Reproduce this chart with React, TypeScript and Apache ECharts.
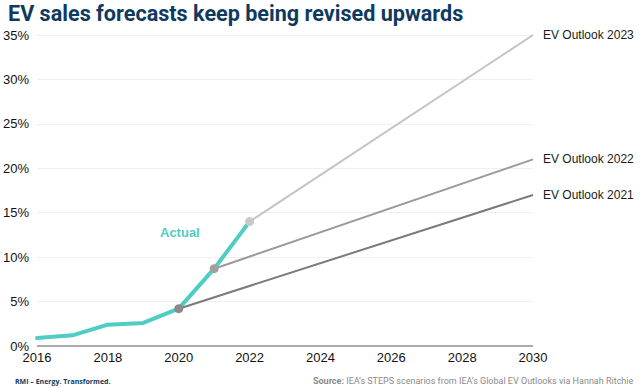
import React, { useEffect, useRef } from "react";
import * as echarts from "echarts";

const actualYears = [2016, 2017, 2018, 2019, 2020, 2021, 2022];
const actualValues = [0.9, 1.2, 2.4, 2.6, 4.2, 8.7, 14.0];

const outlookNames = ["EV Outlook 2021", "EV Outlook 2022", "EV Outlook 2023"];
const outlookStartYears = [2020, 2021, 2022];
const outlookStartValues = [4.2, 8.7, 14.0];
const outlookEndYear = 2030;
const outlookEndValues = [17.0, 21.0, 35.0];
const outlookLineColors = ["#7a7a7a", "#9a9a9a", "#c4c4c4"];
const outlookDotColors = ["#8a8a8a", "#a0a0a0", "#c8c8c8"];

const yTicks = [0, 5, 10, 15, 20, 25, 30, 35];
const xTicks = [2016, 2018, 2020, 2022, 2024, 2026, 2028, 2030];

const titleText = "EV sales forecasts keep being revised upwards";
const footerLeft = "RMI – Energy. Transformed.";
const footerSourceBold = "Source:";
const footerSource = " IEA’s STEPS scenarios from IEA’s Global EV Outlooks via Hannah Ritchie";

export default function App() {
  const ref = useRef<HTMLDivElement>(null);
  useEffect(() => {
    if (!ref.current) return;
    const chart = echarts.init(ref.current, undefined, { renderer: "svg" });
    const outlookSeries = outlookNames.map((name, i) => ({
      name,
      type: "line",
      z: 3,
      data: [
        { value: [outlookStartYears[i], outlookStartValues[i]], symbol: "circle", symbolSize: 9 },
        { value: [outlookEndYear, outlookEndValues[i]], symbol: "none" },
      ],
      lineStyle: { color: outlookLineColors[i], width: 2 },
      itemStyle: { color: outlookDotColors[i] },
      endLabel: {
        show: true,
        formatter: name,
        color: "#1a1a1a",
        fontSize: 12,
        fontFamily: "Liberation Sans, Arial, sans-serif",
        distance: 10,
      },
      silent: true,
    }));
    chart.setOption({
      animation: false,
      grid: { left: 35, right: 107, top: 35, bottom: 42, containLabel: false },
      xAxis: {
        type: "value",
        min: 2016,
        max: 2030,
        interval: 2,
        axisLine: { show: false },
        axisTick: { show: false },
        splitLine: { show: false },
        axisLabel: {
          color: "#111",
          fontSize: 13,
          fontFamily: "Liberation Sans, Arial, sans-serif",
          margin: 5,
          formatter: (v: number) => (xTicks.includes(v) ? String(v) : ""),
        },
      },
      yAxis: {
        type: "value",
        min: 0,
        max: 35,
        interval: 5,
        axisLine: { show: false },
        axisTick: { show: false },
        splitLine: { show: true, lineStyle: { color: "#f0f0f0", width: 1 } },
        axisLabel: {
          color: "#111",
          fontSize: 13,
          fontFamily: "Liberation Sans, Arial, sans-serif",
          margin: 8,
          formatter: (v: number) => (yTicks.includes(v) ? v + "%" : ""),
        },
      },
      series: [
        {
          name: "Actual",
          type: "line",
          z: 2,
          data: actualYears.map((y, i) => [y, actualValues[i]]),
          symbol: "none",
          lineStyle: { color: "#4ecdc4", width: 4, cap: "round", join: "round" },
          markLine: {
            silent: true,
            symbol: "none",
            label: { show: false },
            lineStyle: { color: "#ababab", width: 2, type: "solid" },
            data: [{ yAxis: 0 }],
          },
        },
        ...outlookSeries,
      ],
      graphic: [
        {
          type: "text",
          left: 8,
          top: 2,
          style: {
            text: titleText,
            fill: "#0f3a5f",
            font: "bold 21.6px Roboto, sans-serif",
          },
        },
        {
          type: "text",
          x: 160,
          y: 226,
          style: {
            text: "Actual",
            fill: "#4ecdc4",
            font: "bold 13px 'Liberation Sans', Arial, sans-serif",
          },
        },
        {
          type: "text",
          x: 15,
          y: 378,
          style: {
            text: footerLeft,
            fill: "#0f3a5f",
            font: "bold 7px 'Open Sans', sans-serif",
          },
        },
        {
          type: "text",
          x: 313,
          y: 376,
          style: {
            text: "{b|" + footerSourceBold + "}{n|" + footerSource + "}",
            rich: {
              b: { fill: "#8a8a8a", font: "bold 9px Roboto, sans-serif" },
              n: { fill: "#8a8a8a", font: "9px Roboto, sans-serif" },
            },
          },
        },
      ],
    });
    return () => chart.dispose();
  }, []);
  return <div ref={ref} style={{ width: 640, height: 388, position: "absolute", left: 0, top: 0, background: "#fff" }} />;
}
